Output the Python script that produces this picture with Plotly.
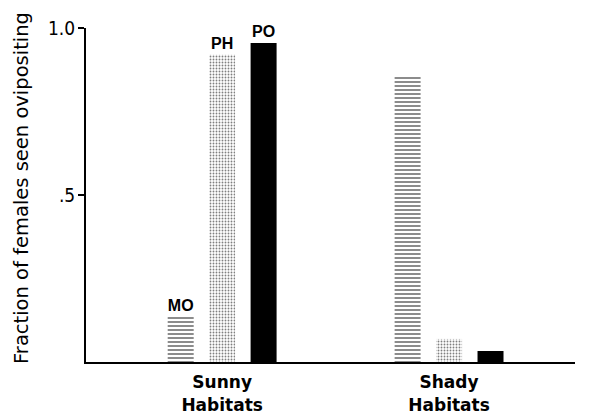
import plotly.graph_objects as go

categories = ["Sunny<br>Habitats", "Shady<br>Habitats"]
series_names = ["MO", "PH", "PO"]
mo_values = [0.135, 0.857]
ph_values = [0.92, 0.069]
po_values = [0.955, 0.033]
ytick_vals = [0.5, 1.0]
ytick_text = [".5", "1.0"]
y_title = "Fraction of females seen ovipositing"

patterns = {
    "MO": dict(shape="-", size=4, solidity=0.45, fgcolor="black", bgcolor="white"),
    "PH": dict(shape=".", size=3, solidity=0.3, fgcolor="black", bgcolor="white"),
    "PO": dict(shape="", fgcolor="black", bgcolor="black"),
}
values = {"MO": mo_values, "PH": ph_values, "PO": po_values}

fig = go.Figure()
for name in series_names:
    fig.add_trace(go.Bar(
        x=categories, y=values[name], name=name,
        marker=dict(color="white" if name != "PO" else "black",
                    line=dict(width=0),
                    pattern=patterns[name]),
        text=[name, ""], textposition="outside", constraintext="none",
        textfont=dict(family="Liberation Sans", size=16, color="black", weight="bold"),
        cliponaxis=False,
        hoverinfo="skip",
    ))

fig.add_annotation(
    text=y_title, textangle=-90, xref="paper", yref="paper",
    x=-0.131, y=0.521, xanchor="center", yanchor="middle", showarrow=False,
    font=dict(family="DejaVu Sans", size=19.5, color="black"),
)

fig.update_layout(
    width=589, height=418,
    margin=dict(l=86, r=14, t=28, b=56),
    paper_bgcolor="white", plot_bgcolor="white",
    barmode="group", bargap=0.452, bargroupgap=0.373,
    showlegend=False,
    font=dict(family="Liberation Sans", color="black"),
    xaxis=dict(showline=True, linecolor="black", linewidth=2, ticks="",
               showgrid=False, zeroline=False, range=[-0.6, 1.555],
               automargin=False,
               tickfont=dict(family="DejaVu Sans", size=17, weight="bold"),
               ticklabelstandoff=4),
    yaxis=dict(showline=True, linecolor="black", linewidth=2, ticks="outside",
               ticklen=6, tickwidth=2, tickcolor="black",
               showgrid=False, zeroline=False, range=[0, 1.0],
               automargin=False,
               tickvals=ytick_vals, ticktext=ytick_text,
               tickfont=dict(family="Liberation Sans Narrow, DejaVu Sans Condensed", size=19),
               ticklabelstandoff=-1),
)

fig.write_html("out.html", config={"displayModeBar": False, "staticPlot": True},
               post_script="document.body.style.margin='0';document.body.style.overflow='hidden';")
